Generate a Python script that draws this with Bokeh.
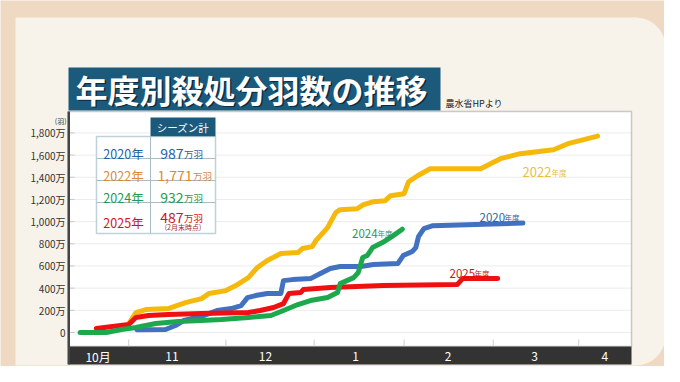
import numpy as np
from bokeh.plotting import figure
from bokeh.models import Range1d, BoxAnnotation, Label, PolyAnnotation
from bokeh.core.properties import value
from bokeh.embed import file_html
from bokeh.resources import INLINE

# ---------------- data (x: months since Oct 1, y: 万羽) ----------------
m_2022 = [0.96, 1.06, 1.17, 1.42, 1.61, 1.79, 1.87, 2.06, 2.17, 2.31, 2.41, 2.52, 2.67, 2.86, 2.91,
          3.02, 3.06, 3.19, 3.28, 3.33, 3.52, 3.59, 3.70, 3.83, 3.89, 4.04, 4.09, 4.19, 4.33, 4.89,
          5.11, 5.33, 5.70, 5.86, 6.19]
v_2022 = [54, 180, 207, 216, 270, 306, 351, 378, 423, 495, 586, 649, 712, 721, 757,
          775, 829, 946, 1081, 1108, 1117, 1153, 1180, 1189, 1234, 1252, 1360, 1414, 1477, 1477,
          1568, 1613, 1649, 1703, 1771]

m_2020 = [1.07, 1.39, 1.50, 1.59, 1.78, 1.96, 2.12, 2.23, 2.30, 2.39, 2.52, 2.67, 2.70, 2.80, 3.00,
          3.11, 3.22, 3.33, 3.56, 3.70, 3.97, 4.03, 4.13, 4.17, 4.20, 4.26, 4.36, 4.74, 5.36]
v_2020 = [25, 27, 63, 108, 144, 198, 216, 243, 315, 333, 351, 351, 468, 477, 486,
          532, 577, 595, 595, 613, 622, 694, 730, 766, 865, 937, 964, 973, 987]

m_2024 = [0.44, 0.73, 0.90, 1.06, 1.28, 1.53, 1.79, 2.01, 2.31, 2.56, 2.70, 2.86, 3.00, 3.19, 3.30,
          3.33, 3.48, 3.53, 3.58, 3.63, 3.69, 3.80, 3.92, 4.02]
v_2024 = [0, 0, 27, 45, 81, 99, 108, 117, 135, 153, 198, 252, 288, 315, 360,
          441, 495, 540, 676, 694, 766, 811, 874, 932]

m_2025 = [0.62, 0.98, 1.06, 1.20, 1.42, 1.79, 2.31, 2.44, 2.59, 2.70, 2.76, 2.89, 2.92, 3.22, 3.81,
          4.63, 4.69, 5.08]
v_2025 = [36, 72, 135, 153, 162, 171, 180, 198, 225, 261, 351, 360, 387, 405, 423,
          432, 486, 487]

month_labels = ["10月", "11", "12", "1", "2", "3", "4"]
month_label_pos = [0.64, 1.46, 2.50, 3.50, 4.53, 5.49, 6.27]
month_bounds = [0.98, 2.06, 3.04, 4.04, 5.03, 5.98]

y_ticks = [0, 200, 400, 600, 800, 1000, 1200, 1400, 1600, 1800]
y_tick_labels = ["0", "200万", "400万", "600万", "800万", "1,000万", "1,200万",
                 "1,400万", "1,600万", "1,800万"]

season_years = ["2020年", "2022年", "2024年", "2025年"]
season_totals = ["987", "1,771", "932", "487"]
series_names = ["2020", "2022", "2024", "2025"]

# ---------------- style ----------------
F = "Noto Sans CJK JP"
PEACH = "#efd9c3"
CARD = "#f7f3ea"
NAVY = "#1c5a7c"
LINE_COLORS = {"2022": "#f5b90c", "2020": "#4271c2", "2024": "#1ea84e", "2025": "#ef1111"}
TEXT_COLORS = {"2020": "#1f62a4", "2022": "#d98a35", "2024": "#1e9a56", "2025": "#d3121d"}
LABEL_COLORS = {"2022": "#e8bf45", "2020": "#2a64a8", "2024": "#1e9a56", "2025": "#c81420"}

W, H = 664, 366

# pixel <-> data mapping of the chart area (layout helpers)
def dx(px):
    return (px - 40) / 90.0

def dy(py):
    return (332 - py) * 9.02

def RX(x):
    return x

def RY(y):
    return H - y

p = figure(width=W, height=H, output_backend="svg", toolbar_location=None,
           x_range=Range1d(dx(0), dx(W)), y_range=Range1d(dy(H), dy(0)),
           x_axis_type=None, y_axis_type=None, min_border=0,
           background_fill_color=PEACH, border_fill_color=PEACH)
p.outline_line_color = None
p.title.visible = False

def box(l, r, t, b, fill, line=None, lw=1, level="annotation", alpha=1):
    p.add_layout(BoxAnnotation(left=RX(l), right=RX(r), top=RY(t), bottom=RY(b),
                               left_units="screen", right_units="screen", top_units="screen",
                               bottom_units="screen", fill_color=fill, fill_alpha=alpha,
                               line_color=line, line_width=lw, level=level))

def label(x, y, text, size, color, align="left", baseline="alphabetic", style="normal"):
    p.add_layout(Label(x=RX(x), y=RY(y), x_units="screen", y_units="screen", text=text,
                       text_font=F, text_font_size=f"{size}px", text_color=color,
                       text_align=align, text_baseline=baseline, text_font_style=style))

# card with rounded right corners
r = 30
th = np.linspace(np.pi / 2, 0, 16)
card_x = [15] + list(665 - r + r * np.cos(th)) + list(665 - r + r * np.cos(-th[::-1])) + [15]
card_y = [17] + list(17 + r - r * np.sin(th)) + list(365 - r - r * np.sin(-th[::-1])) + [365]
p.add_layout(PolyAnnotation(xs=[RX(v) for v in card_x], ys=[RY(v) for v in card_y],
                            xs_units="screen", ys_units="screen", fill_color=CARD,
                            fill_alpha=1, line_color=None, level="underlay"))

# plot area and month bar
box(68, 631, 111, 346, "white", level="underlay")
box(68, 631, 346, 364, "#333333", level="underlay")

# grid lines and y ticks
n = len(y_ticks)
p.segment(x0=[dx(68)] * n, x1=[dx(631)] * n, y0=y_ticks, y1=y_ticks,
          line_color="#ececec", line_width=1)
p.segment(x0=[dx(69)] * n, x1=[dx(74)] * n, y0=y_ticks, y1=y_ticks,
          line_color="#c8c8c8", line_width=1)
p.segment(x0=month_bounds, x1=month_bounds, y0=[dy(339)] * len(month_bounds),
          y1=[dy(346)] * len(month_bounds), line_color="#cfcfcf", line_width=1)

# series lines
for name, xs, ys in [("2022", m_2022, v_2022), ("2020", m_2020, v_2020),
                     ("2025", m_2025, v_2025), ("2024", m_2024, v_2024)]:
    p.line(xs, ys, line_width=5, line_color=LINE_COLORS[name],
           line_cap="round", line_join="round")

# tick labels
p.text(x=[dx(65)] * n, y=y_ticks, text=y_tick_labels, text_font=value(F),
       text_font_size="10px", text_color="#333333", text_align="right", text_baseline="middle")
p.text(x=month_label_pos, y=[dy(355.5)] * len(month_labels), text=month_labels,
       text_font=value(F), text_font_size="12px", text_color="white",
       text_align="center", text_baseline="middle")

# frame outline and left axis line
box(68, 631, 111, 346, None, line="#5a5a5a", lw=1.5)
box(67, 69.5, 111, 364, "#444444")

# title
box(68, 440, 67, 110, NAVY)
label(76.5, 89.5, "年度別殺処分羽数の推移", 32, "#0b2b3e", baseline="middle", style="bold")
label(75, 88, "年度別殺処分羽数の推移", 32, "white", baseline="middle", style="bold")
label(445, 102.5, "農水省HPより", 9, "#222222", baseline="middle")
label(66, 120, "(羽)", 7, "#333333", align="right", baseline="middle")

# summary table
box(150, 215, 117, 136, NAVY)
label(182.5, 126.5, "シーズン計", 10.5, "white", align="center", baseline="middle")
box(96, 215, 136, 233, "white", line="#2a6a82", lw=1.5)
for yy in [158, 180, 202]:
    box(96, 215, yy - 0.5, yy + 0.5, "#a9bcc6")
box(149.5, 150.5, 136, 233, "#a9bcc6")

year_base = [153, 175, 197, 221.5]
val_base = [153, 175, 197, 217]
splits = [183, 192, 183, 183]
for i, name in enumerate(series_names):
    c = TEXT_COLORS[name]
    label(123, year_base[i], season_years[i], 12.5, c, align="center")
    label(splits[i], val_base[i], season_totals[i], 14, c, align="right")
    label(splits[i] + 0.5, val_base[i], "万羽", 9.5, c, align="left")
label(182.5, 226, "(2月末時点)", 7, "#9a2a2a", align="center", baseline="middle")

# line labels
line_lab = {"2022": (522, 551, 171.5, 13), "2020": (479, 504, 217, 11.5),
            "2024": (351.5, 377, 232.5, 11.5), "2025": (449, 474, 273.3, 11.5)}
for name, (xd, xn, yb, fs) in line_lab.items():
    c = LABEL_COLORS[name]
    label(xd, yb, name, fs, c)
    label(xn, yb, "年度", 7.5, c)

open("out.html", "w").write(file_html(p, INLINE))
